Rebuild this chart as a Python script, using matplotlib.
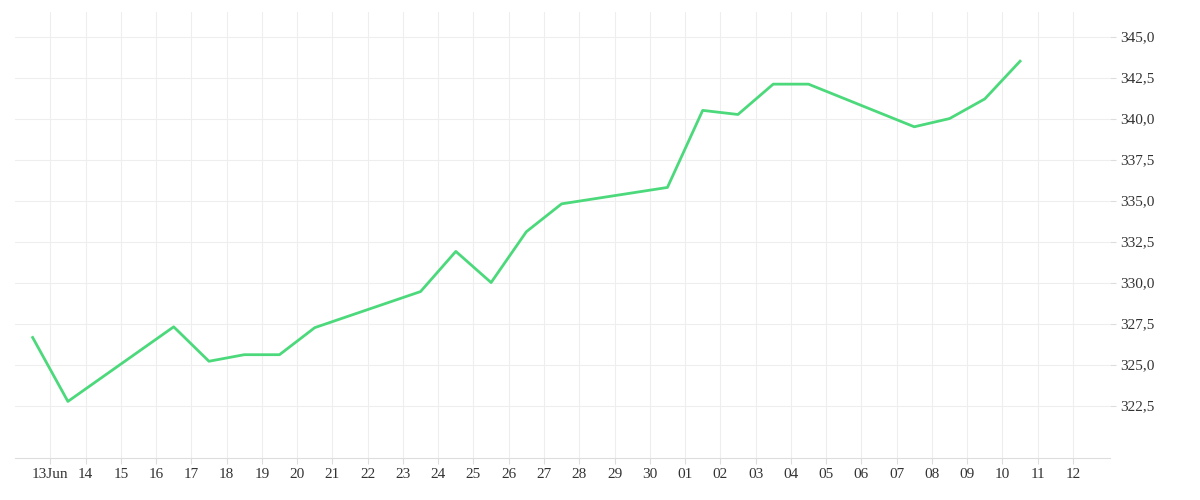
import matplotlib.pyplot as plt
import numpy as np

# day index: 0 = 13 Jun, 18 = 01 Jul
days = [-0.5, 0.5, 3.5, 4.5, 5.5, 6.5, 7.5, 10.5, 11.5, 12.5, 13.5, 14.5,
        17.5, 18.5, 19.5, 20.5, 21.5, 24.5, 25.5, 26.5, 27.5]
values = [326.65, 322.75, 327.3, 325.2, 325.6, 325.6, 327.25, 329.45, 331.9, 330.0,
          333.1, 334.8, 335.8, 340.5, 340.25, 342.1, 342.1, 339.5, 340.0, 341.2, 343.5]
tick_labels = ['13Jun'] + [str(d) for d in range(14, 31)] + ['%02d' % d for d in range(1, 13)]
y_ticks = [322.5, 325, 327.5, 330, 332.5, 335, 337.5, 340, 342.5, 345]

plt.rcParams['font.family'] = ['Liberation Serif', 'DejaVu Sans']
fig = plt.figure(figsize=(12, 5), dpi=100)
ax = fig.add_axes([0.0125, 0.084, 0.9125, 0.892])
ax.plot(days, values, color='#4cd97b', linewidth=2)

ax.set_xlim(-1.0, 30.05)
ax.set_ylim(319.3, 346.5)
ax.set_xticks(range(len(tick_labels)))
ax.set_xticklabels(tick_labels, fontsize=11, color='#333333')
ax.set_yticks(y_ticks)
ax.set_yticklabels([('%.1f' % v).replace('.', ',') for v in y_ticks], fontsize=11, color='#333333')
ax.yaxis.tick_right()
ax.grid(True, color='#eeeeee', linewidth=0.8)
for s in ['top', 'left', 'right']:
    ax.spines[s].set_visible(False)
ax.spines['bottom'].set_color('#dddddd')
ax.tick_params(length=4, color='#dddddd')

fig.savefig('out.png', dpi=100)
